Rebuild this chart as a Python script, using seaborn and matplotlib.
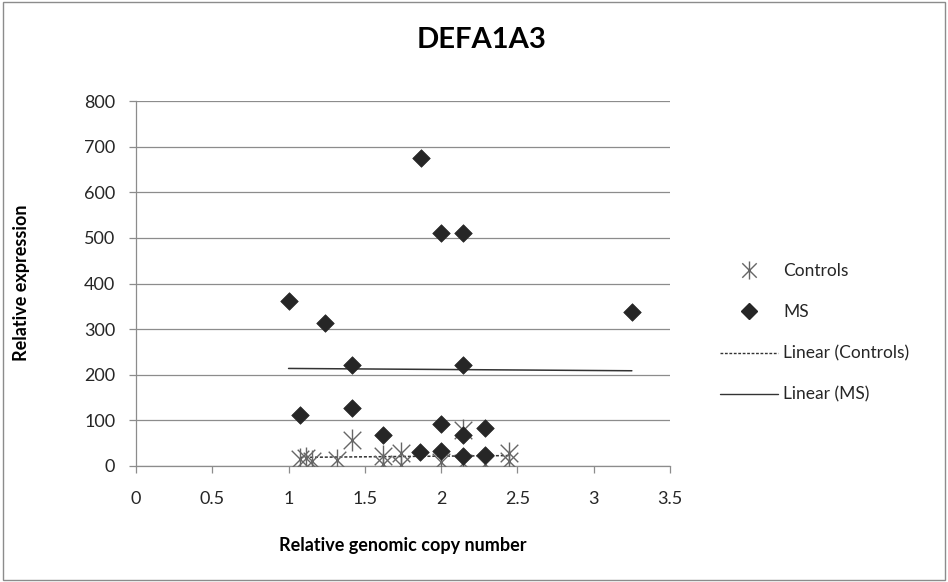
import numpy as np
import pandas as pd
import matplotlib
matplotlib.use("Agg")
import matplotlib.pyplot as plt
from matplotlib.lines import Line2D
from matplotlib.patches import Rectangle
from matplotlib.path import Path
import seaborn as sns

# ---- data ----
controls_x = [1.077, 1.115, 1.153, 1.316, 1.414, 1.62, 1.62, 1.736, 1.736, 2.0, 2.14, 2.14, 2.29, 2.445, 2.445]
controls_y = [16, 17, 12, 14, 57, 22, 4, 29, 2, 8, 79, 7, 5, 29, 12]
ms_x = [1.0, 1.077, 1.236, 1.414, 1.414, 1.62, 1.863, 1.87, 2.0, 2.0, 2.0,
        2.14, 2.14, 2.14, 2.14, 2.29, 2.29, 3.25]
ms_y = [362, 111, 314, 222, 127, 68, 31, 676, 511, 91, 33,
        511, 222, 68, 21, 84, 24, 337]
x_ticks = [0, 0.5, 1, 1.5, 2, 2.5, 3, 3.5]
x_tick_labels = ["0", "0.5", "1", "1.5", "2", "2.5", "3", "3.5"]
y_ticks = [0, 100, 200, 300, 400, 500, 600, 700, 800]
title = "DEFA1A3"
x_label = "Relative genomic copy number"
y_label = "Relative expression"
series_names = ["Controls", "MS", "Linear (Controls)", "Linear (MS)"]

ctrl = pd.DataFrame({"x": controls_x, "y": controls_y})
ms = pd.DataFrame({"x": ms_x, "y": ms_y})

sns.set_theme(style="white")
plt.rcParams["font.family"] = ["Lato", "DejaVu Sans"]

fig = plt.figure(figsize=(9.48, 5.82), dpi=100)
ax = fig.add_axes([136 / 948, 1 - 466 / 582, (670 - 136) / 948, (466 - 101) / 582])

grid_c = "#8c8c8c"
ax.set_xlim(0, 3.5)
ax.set_ylim(0, 800)
ax.set_yticks(y_ticks)
ax.set_xticks(x_ticks)
ax.set_xticklabels(x_tick_labels)
ax.yaxis.grid(True, color=grid_c, lw=0.9)
ax.xaxis.grid(False)
ax.set_axisbelow(True)
for s in ["top", "right"]:
    ax.spines[s].set_visible(False)
for s in ["left", "bottom"]:
    ax.spines[s].set_color(grid_c)
    ax.spines[s].set_linewidth(0.9)
ax.tick_params(axis="both", which="both", direction="out", length=5, width=0.9,
               color=grid_c, labelsize=13, labelcolor="#262626",
               left=True, bottom=True)
ax.tick_params(axis="y", pad=10)
ax.tick_params(axis="x", pad=13)

# star marker: X with a vertical bar (Excel style)
d = 0.8
star = Path([(0, -1), (0, 1), (-d, -d), (d, d), (-d, d), (d, -d)],
            [Path.MOVETO, Path.LINETO, Path.MOVETO, Path.LINETO, Path.MOVETO, Path.LINETO])
star_c = "#666666"

# regression lines
sns.regplot(data=ctrl, x="x", y="y", scatter=False, ci=None, truncate=True, ax=ax,
            line_kws={"color": "#333333", "lw": 1.1, "ls": (0, (2, 1.2))})
sns.regplot(data=ms, x="x", y="y", scatter=False, ci=None, truncate=True, ax=ax,
            line_kws={"color": "#333333", "lw": 1.1, "ls": "-"})

sns.scatterplot(data=ctrl, x="x", y="y", marker=star, s=250, color=star_c,
                edgecolor=star_c, linewidth=1.0, ax=ax, zorder=3, legend=False)
sns.scatterplot(data=ms, x="x", y="y", marker="D", s=80, color="#262626",
                edgecolor="#262626", linewidth=0.5, ax=ax, zorder=4, legend=False)

ax.set_xlabel("")
ax.set_ylabel("")
fig.text(403 / 948, 1 - 545 / 582, x_label, ha="center", va="center",
         fontsize=13, fontweight="bold", color="black")
fig.text(22 / 948, 1 - 283 / 582, y_label, ha="center", va="center",
         rotation=90, fontsize=13, fontweight="bold", color="black")
fig.text(482 / 948, 1 - 40 / 582, title, ha="center", va="center",
         fontsize=21, fontweight="bold", color="black")

handles = [
    Line2D([], [], ls="none", marker=star, ms=13, color=star_c, mew=1.0),
    Line2D([], [], ls="none", marker="D", ms=8, color="#262626"),
    Line2D([], [], color="#333333", lw=1.0, ls=(0, (2, 1.2))),
    Line2D([], [], color="#333333", lw=1.0, ls="-"),
]
fig.legend(handles, series_names, loc="center left",
           bbox_to_anchor=(720 / 948, 1 - 333 / 582), frameon=False,
           fontsize=12.5, labelspacing=1.45, handlelength=3.33, handletextpad=0.3,
           borderpad=0, borderaxespad=0, labelcolor="#262626")

fig.patches.append(Rectangle((0.003, 0.004), 0.994, 0.992, transform=fig.transFigure,
                             fill=False, edgecolor="#8c8c8c", lw=1.0))

fig.savefig("out.png", dpi=100)
